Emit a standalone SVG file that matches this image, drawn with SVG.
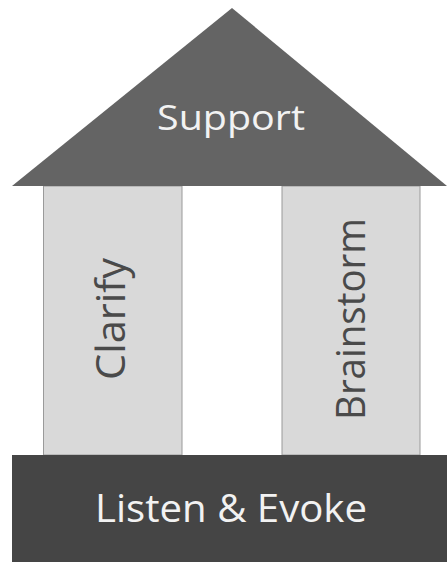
<svg xmlns="http://www.w3.org/2000/svg" width="447" height="562" viewBox="0 0 447 562">
  <style>
    .label { font-family: "Open Sans", "Liberation Sans", sans-serif; text-anchor: middle; }
    .light { fill: #f2f2f2; }
    .dark { fill: #4a4a4a; }
    .pillar { fill: #d9d9d9; stroke: #9a9a9a; stroke-width: 1; }
  </style>
  <rect width="447" height="562" fill="#ffffff"/>
  <g id="pillar-clarify">
    <rect class="pillar" x="43.5" y="186" width="138.5" height="269"/>
    <text class="label dark" font-size="41" transform="translate(125 319) rotate(-90)" textLength="122" lengthAdjust="spacingAndGlyphs">Clarify</text>
  </g>
  <g id="pillar-brainstorm">
    <rect class="pillar" x="282" y="186" width="138" height="269"/>
    <text class="label dark" font-size="41" transform="translate(365 319) rotate(-90)" textLength="202" lengthAdjust="spacingAndGlyphs">Brainstorm</text>
  </g>
  <g id="roof-support">
    <polygon points="232,8 447,186 12,186" fill="#646464"/>
    <text class="label light" x="231" y="130" font-size="35" textLength="148" lengthAdjust="spacingAndGlyphs">Support</text>
  </g>
  <g id="base-listen-evoke">
    <rect x="12" y="455" width="435" height="107" fill="#454545"/>
    <text class="label light" x="231" y="522" font-size="38" textLength="272" lengthAdjust="spacingAndGlyphs">Listen &amp; Evoke</text>
  </g>
  <g id="connectors"/>
</svg>
